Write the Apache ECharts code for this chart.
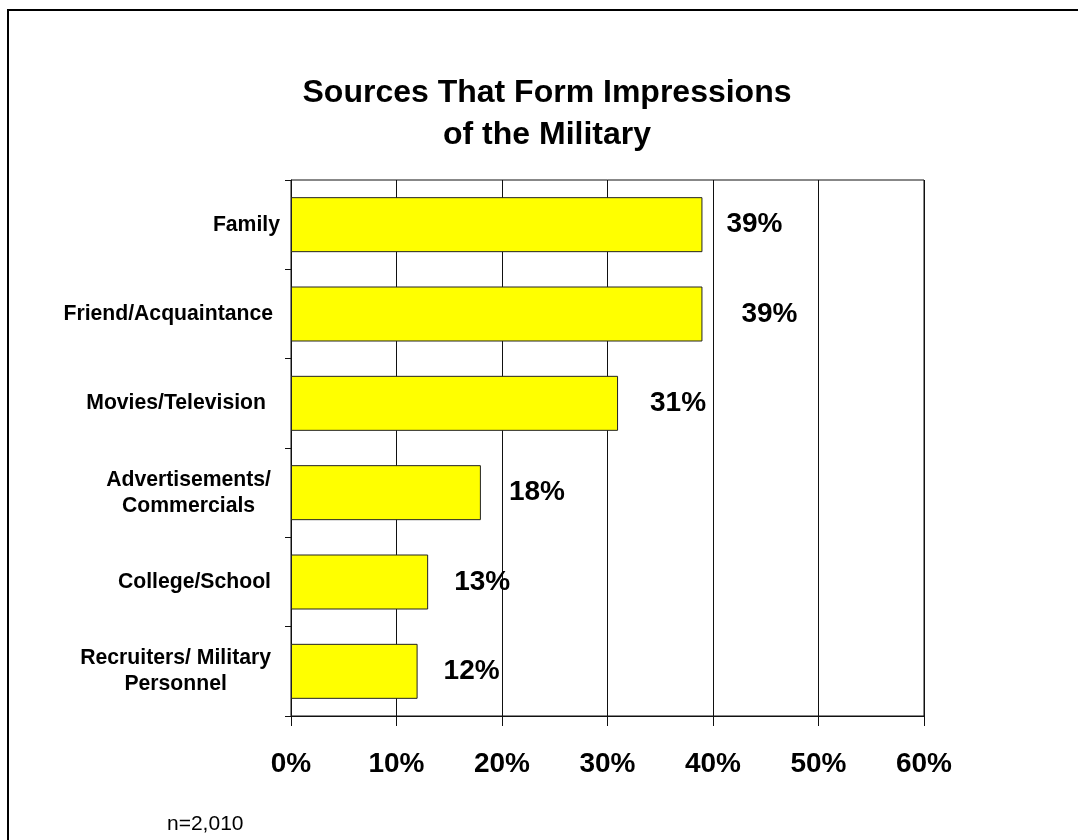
<!DOCTYPE html>
<html>
<head>
<meta charset="utf-8">
<title>Sources That Form Impressions of the Military</title>
<script src="https://cdn.jsdelivr.net/npm/echarts@6/dist/echarts.min.js"></script>
<style>
  html, body { margin: 0; padding: 0; background: #fff; }
  #chart { width: 1078px; height: 840px; }
</style>
</head>
<body>
<div id="chart"></div>
<script>
// Survey sources, top to bottom
const categories = [
  'Family',
  'Friend/Acquaintance',
  'Movies/Television',
  'Advertisements/\nCommercials',
  'College/School',
  'Recruiters/ Military\nPersonnel'
];
// Share of respondents naming each source (%)
const shares = [39, 39, 31, 18, 13, 12];
// Value axis ticks (%)
const axisMin = 0;
const axisMax = 60;
const axisStep = 10;
const sampleNote = 'n=2,010';

// Per-row presentation tweaks: extra gap between bar end and its label,
// and extra right padding for the category names.
const labelGap = [24, 39, 32, 28, 26, 26];
const namePad = [0, 7, 14, 9, 9, 9];

const FONT = '"Liberation Sans", Arial, Helvetica, sans-serif';

const rich = {};
namePad.forEach(function (p, i) {
  rich['n' + i] = {
    align: 'center',
    padding: [0, p, 0, 0],
    fontFamily: FONT,
    fontSize: 21.2,
    fontWeight: 'bold',
    color: '#000',
    lineHeight: 26
  };
});

const chart = echarts.init(document.getElementById('chart'), null, { renderer: 'canvas' });

chart.setOption({
  animation: false,
  backgroundColor: '#fff',
  textStyle: { fontFamily: FONT },
  title: {
    text: 'Sources That Form Impressions\nof the Military',
    left: 547,
    top: 72,
    padding: 0,
    textAlign: 'center',
    textStyle: {
      fontFamily: FONT,
      fontSize: 32,
      fontWeight: 'bold',
      color: '#000',
      lineHeight: 42
    }
  },
  graphic: [
    {
      type: 'rect',
      silent: true,
      shape: { x: 8, y: 10, width: 1200, height: 1000 },
      style: { fill: 'none', stroke: '#000', lineWidth: 2 }
    },
    {
      type: 'text',
      silent: true,
      x: 167,
      y: 824,
      style: {
        text: sampleNote,
        fontFamily: FONT,
        fontSize: 21,
        fill: '#000',
        align: 'left',
        verticalAlign: 'middle'
      }
    }
  ],
  grid: {
    left: 291,
    top: 180,
    right: 154,
    bottom: 124,
    show: true,
    borderColor: '#111',
    borderWidth: 1,
    containLabel: false
  },
  xAxis: {
    type: 'value',
    min: axisMin,
    max: axisMax,
    interval: axisStep,
    axisLine: { show: true, lineStyle: { color: '#111', width: 1 } },
    axisTick: { show: true, length: 10, lineStyle: { color: '#111', width: 1 } },
    splitLine: { show: true, lineStyle: { color: '#111', width: 1 } },
    axisLabel: {
      formatter: '{value}%',
      margin: 34,
      fontFamily: FONT,
      fontSize: 28,
      fontWeight: 'bold',
      color: '#000',
      lineHeight: 28
    }
  },
  yAxis: {
    type: 'category',
    data: categories,
    inverse: true,
    axisLine: { show: true, lineStyle: { color: '#111', width: 1 } },
    axisTick: { show: true, length: 6, lineStyle: { color: '#111', width: 1 } },
    splitLine: { show: false },
    axisLabel: {
      margin: 11,
      align: 'right',
      formatter: function (value, index) {
        return value.split('\n').map(function (line) {
          return '{n' + index + '|' + line + '}';
        }).join('\n');
      },
      rich: rich
    }
  },
  series: [
    {
      type: 'bar',
      barWidth: 55,
      data: shares.map(function (v, i) {
        return {
          value: v,
          label: { distance: labelGap[i] }
        };
      }),
      itemStyle: {
        color: '#FFFF00',
        borderColor: '#222',
        borderWidth: 1
      },
      label: {
        show: true,
        position: 'right',
        formatter: '{c}%',
        fontFamily: FONT,
        fontSize: 28,
        fontWeight: 'bold',
        color: '#000'
      }
    }
  ]
});
</script>
</body>
</html>
